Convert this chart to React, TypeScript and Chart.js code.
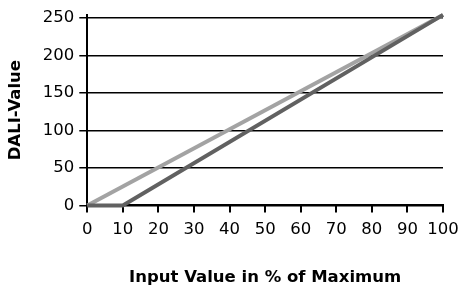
import React, { useEffect, useRef } from "react";
import { Chart, registerables } from "chart.js";

Chart.register(...registerables);

const inputPercent = [0, 100];
const dimmedValues = [0, 254];
const offsetInputPercent = [0, 10, 100];
const offsetValues = [0, 0, 254];
const yTickValues = [0, 50, 100, 150, 200, 250];

const FONT = "'DejaVu Sans', 'Liberation Sans', Arial, sans-serif";

export default function App() {
  const ref = useRef<HTMLCanvasElement>(null);
  useEffect(() => {
    document.body.style.margin = "0";
    const ctx = ref.current!;
    const chart = new Chart(ctx, {
      type: "line",
      data: {
        datasets: [
          {
            label: "light",
            data: inputPercent.map((x, i) => ({ x, y: dimmedValues[i] })),
            borderColor: "#a3a3a3",
            borderWidth: 4,
            pointRadius: 0,
            clip: false as any,
            order: 2,
          },
          {
            label: "dark",
            data: offsetInputPercent.map((x, i) => ({ x, y: offsetValues[i] })),
            borderColor: "#616161",
            borderWidth: 4,
            pointRadius: 0,
            clip: false as any,
            order: 1,
          },
        ],
      },
      options: {
        animation: false,
        responsive: false,
        layout: { padding: { left: 0, right: 0, top: 8, bottom: 0 } },
        plugins: { legend: { display: false }, tooltip: { enabled: false } },
        scales: {
          x: {
            type: "linear",
            min: 0,
            max: 100,
            afterFit: (scale: any) => {
              scale.paddingRight = 16;
            },
            ticks: {
              stepSize: 10,
              color: "#000",
              font: { family: FONT, size: 16.5 },
              padding: 7,
              maxRotation: 0,
              minRotation: 0,
              autoSkip: false,
            },
            grid: { drawOnChartArea: false, color: "#000", tickLength: 7, lineWidth: 2 },
            border: { color: "#000", width: 2 },
            title: {
              display: true,
              text: "Input Value in % of Maximum",
              color: "#000",
              font: { family: FONT, size: 16.5, weight: "bold" },
              padding: { top: 22, bottom: 0 },
            },
          },
          y: {
            min: 0,
            max: 254,
            afterBuildTicks: (scale: any) => {
              scale.ticks = yTickValues.map((v) => ({ value: v }));
            },
            ticks: { color: "#000", font: { family: FONT, size: 16.5 }, padding: 5 },
            grid: { color: "#000", tickLength: 8, lineWidth: 1.5 },
            border: { color: "#000", width: 2 },
            title: {
              display: true,
              text: "DALI-Value",
              color: "#000",
              font: { family: FONT, size: 16.5, weight: "bold" },
              padding: { top: 6, bottom: 12 },
            },
          },
        },
      },
    });
    return () => chart.destroy();
  }, []);
  return <canvas ref={ref} width={459} height={288} style={{ display: "block" }} />;
}
